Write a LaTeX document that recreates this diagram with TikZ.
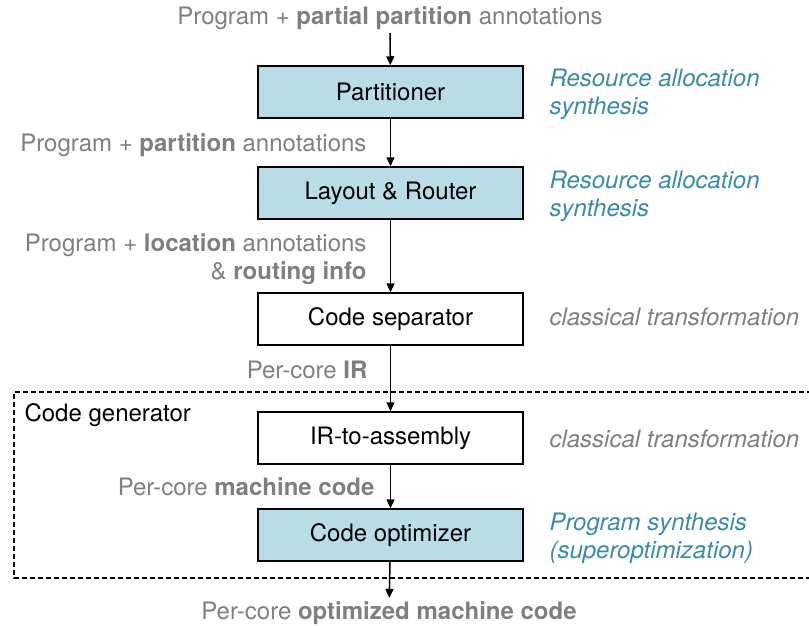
\documentclass[tikz,border=0pt]{standalone}
\usepackage{fontspec}
\setmainfont{TeX Gyre Heros}
\usetikzlibrary{arrows.meta,positioning}

\definecolor{boxblue}{HTML}{B9DDE6}
\definecolor{synthteal}{HTML}{3A8CA3}
\definecolor{notegray}{HTML}{7F7F7F}

\newcommand{\diagsize}{\fontsize{24}{28}\selectfont}

\tikzset{
  stage/.style={draw, line width=1.5pt, minimum width=265pt, minimum height=52pt, inner sep=0pt},
  synthstage/.style={stage, fill=boxblue},
  flowtxt/.style={text=notegray},
  synthnote/.style={text=synthteal, font=\diagsize\itshape, align=left, anchor=west},
  plainnote/.style={text=notegray, font=\diagsize\itshape, anchor=west},
  flow/.style={-{Triangle[length=9pt,width=8pt]}, line width=1.5pt},
  genframe/.style={line width=1.5pt, dash pattern=on 5pt off 3pt}
}

\begin{document}
\begin{tikzpicture}[x=1pt,y=-1pt,
    every node/.append style={font=\diagsize}]
  \useasboundingbox (0,0) rectangle (809,626);

  % the pipeline
  \node[flowtxt] (src) at (390,18) {Program + \textbf{partial partition} annotations};
  \node[synthstage] (part) at (390.5,92) {Partitioner};
  \node[synthstage] (route) at (390.5,193) {Layout \& Router};
  \node[stage] (sep) at (390.5,319) {Code separator};
  \node[stage] (asm) at (390.5,438) {IR-to-assembly};
  \node[synthstage] (opt) at (390.5,535) {Code optimizer};
  \node[flowtxt] (dst) at (389,613) {Per-core \textbf{optimized machine code}};

  % what flows between stages
  \node[flowtxt, anchor=east] (parttxt) at (370,145) {Program + \textbf{partition} annotations};
  \node[flowtxt, anchor=east, align=right] (loctxt) at (370,259) {Program + \textbf{location} annotations\\\& \textbf{routing info}};
  \node[flowtxt, anchor=east] (irtxt) at (371,370) {Per-core \textbf{IR}};
  \node[flowtxt, anchor=east] (mctxt) at (378,487) {Per-core \textbf{machine code}};

  % how each stage is built
  \node[synthnote] (partnote) at (546,94) {Resource allocation\\synthesis};
  \node[synthnote] (routenote) at (546,196) {Resource allocation\\synthesis};
  \node[plainnote] (sepnote) at (546,317) {classical transformation};
  \node[plainnote] (asmnote) at (546,439) {classical transformation};
  \node[synthnote] (optnote) at (546,538) {Program synthesis\\(superoptimization)};

  % code generator group
  \draw[genframe] (812,392) -| (14,578) -- (812,578);
  \node[anchor=west] (gen) at (21,415) {Code generator};

  \draw[flow] (src) -- (part);
  \draw[flow] (part) -- (route);
  \draw[flow] (route) -- (sep);
  \draw[flow] (sep) -- (asm);
  \draw[flow] (asm) -- (opt);
  \draw[flow] (opt) -- (dst);
\end{tikzpicture}
\end{document}
